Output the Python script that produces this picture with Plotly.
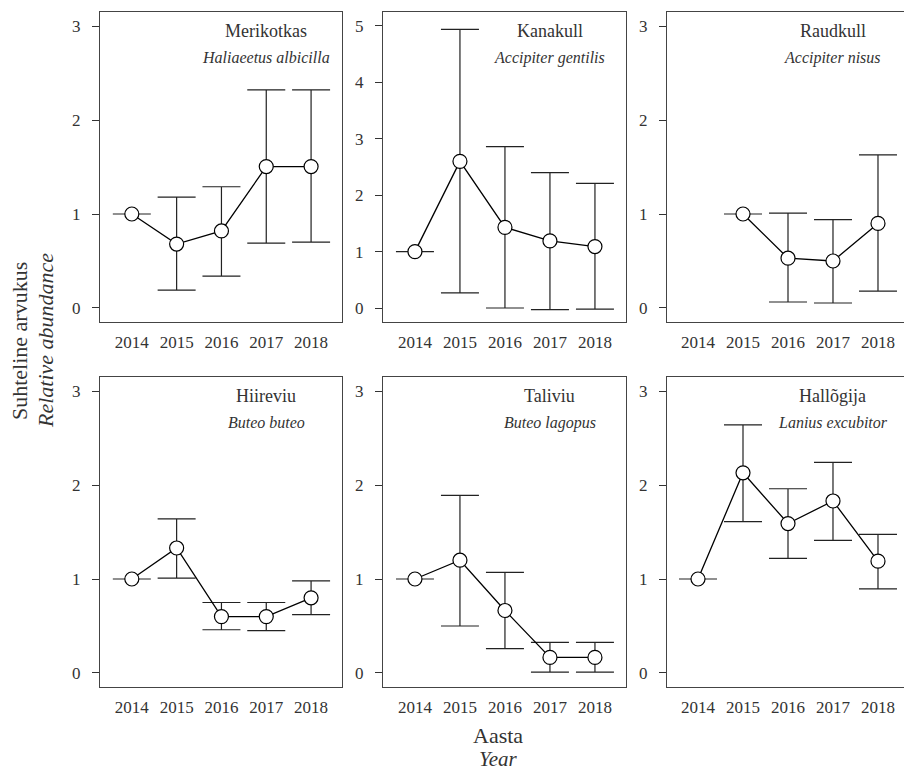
import plotly.graph_objects as go

FONT = "Liberation Serif"

common_names = ["Merikotkas", "Kanakull", "Raudkull", "Hiireviu", "Taliviu", "Hallõgija"]
latin_names = ["Haliaeetus albicilla", "Accipiter gentilis", "Accipiter nisus",
               "Buteo buteo", "Buteo lagopus", "Lanius excubitor"]

years_merikotkas = [2014, 2015, 2016, 2017, 2018]
mean_merikotkas = [1.0, 0.68, 0.82, 1.505, 1.505]
upper_merikotkas = [1.0, 1.18, 1.29, 2.32, 2.32]
lower_merikotkas = [1.0, 0.19, 0.34, 0.69, 0.70]

years_kanakull = [2014, 2015, 2016, 2017, 2018]
mean_kanakull = [1.0, 2.60, 1.43, 1.19, 1.09]
upper_kanakull = [1.0, 4.94, 2.86, 2.40, 2.21]
lower_kanakull = [1.0, 0.27, 0.0, -0.03, -0.02]

years_raudkull = [2015, 2016, 2017, 2018]
mean_raudkull = [1.0, 0.53, 0.50, 0.90]
upper_raudkull = [1.0, 1.01, 0.94, 1.63]
lower_raudkull = [1.0, 0.064, 0.053, 0.18]

years_hiireviu = [2014, 2015, 2016, 2017, 2018]
mean_hiireviu = [1.0, 1.33, 0.60, 0.60, 0.80]
upper_hiireviu = [1.0, 1.64, 0.75, 0.75, 0.98]
lower_hiireviu = [1.0, 1.01, 0.46, 0.45, 0.62]

years_taliviu = [2014, 2015, 2016, 2017, 2018]
mean_taliviu = [1.0, 1.20, 0.665, 0.166, 0.166]
upper_taliviu = [1.0, 1.89, 1.07, 0.325, 0.325]
lower_taliviu = [1.0, 0.50, 0.26, 0.01, 0.01]

years_hallogija = [2014, 2015, 2016, 2017, 2018]
mean_hallogija = [1.0, 2.13, 1.59, 1.83, 1.19]
upper_hallogija = [1.0, 2.64, 1.96, 2.24, 1.475]
lower_hallogija = [1.0, 1.61, 1.22, 1.41, 0.895]

y_ticks_3 = [0, 1, 2, 3]
y_ticks_5 = [0, 1, 2, 3, 4, 5]
x_ticks = [2014, 2015, 2016, 2017, 2018]

panels = [
    (years_merikotkas, mean_merikotkas, upper_merikotkas, lower_merikotkas),
    (years_kanakull, mean_kanakull, upper_kanakull, lower_kanakull),
    (years_raudkull, mean_raudkull, upper_raudkull, lower_raudkull),
    (years_hiireviu, mean_hiireviu, upper_hiireviu, lower_hiireviu),
    (years_taliviu, mean_taliviu, upper_taliviu, lower_taliviu),
    (years_hallogija, mean_hallogija, upper_hallogija, lower_hallogija),
]

W, H = 904, 773
col_px = [(100, 342), (383, 626), (667, 904)]
row_px = [(12, 322), (377, 687)]
x_ranges = [[2013.29, 2018.69], [2013.29, 2018.69], [2013.311, 2018.578]]

fig = go.Figure()
layout = dict(
    width=W, height=H,
    margin=dict(l=0, r=0, t=0, b=0),
    paper_bgcolor="white", plot_bgcolor="white",
    showlegend=False,
    font=dict(family=FONT, color="#333333"),
)
annotations = []

for i, (yrs, mean, up, lo) in enumerate(panels):
    r, c = divmod(i, 3)
    n = i + 1
    xa = "x" if n == 1 else f"x{n}"
    ya = "y" if n == 1 else f"y{n}"
    err_plus = [u - m for u, m in zip(up, mean)]
    err_minus = [m - l for m, l in zip(mean, lo)]
    fig.add_trace(go.Scatter(
        x=yrs, y=mean, xaxis=xa, yaxis=ya, mode="lines+markers",
        line=dict(color="black", width=1.3),
        marker=dict(size=14, color="white", line=dict(color="black", width=1.2)),
        error_y=dict(type="data", symmetric=False, array=err_plus, arrayminus=err_minus,
                     color="#222222", thickness=1.2, width=19),
        hoverinfo="skip",
    ))
    x0, x1 = col_px[c]
    t0, t1 = row_px[r]
    big = (n == 2)
    yr = [-0.248, 5.248] if big else [-0.149, 3.149]
    layout[f"xaxis{n}"] = dict(
        domain=[x0 / W, x1 / W], range=x_ranges[c], anchor=ya,
        tickvals=x_ticks, ticktext=[str(v) for v in x_ticks], ticks="",
        showline=True, linecolor="#444444", linewidth=1, mirror=True,
        showgrid=False, zeroline=False,
        tickfont=dict(family=FONT, size=17, color="#333333"),
        ticklabelstandoff=5,
    )
    layout[f"yaxis{n}"] = dict(
        domain=[1 - t1 / H, 1 - t0 / H], range=yr, anchor=xa,
        tickvals=y_ticks_5 if big else y_ticks_3,
        ticks="outside", ticklen=7, tickcolor="#333333", tickwidth=1,
        showline=True, linecolor="#444444", linewidth=1, mirror=(c != 2),
        showgrid=False, zeroline=False,
        tickfont=dict(family=FONT, size=17, color="#333333"),
        ticklabelstandoff=8,
    )
    annotations.append(dict(
        x=2017, y=0.939, xref=xa, yref=f"{ya} domain", text=common_names[i],
        showarrow=False, xanchor="center", yanchor="middle",
        font=dict(family=FONT, size=18, color="#333333"),
    ))
    annotations.append(dict(
        x=2017, y=0.852, xref=xa, yref=f"{ya} domain", text=f"<i>{latin_names[i]}</i>",
        showarrow=False, xanchor="center", yanchor="middle",
        font=dict(family=FONT, size=16, color="#333333"),
    ))

annotations += [
    dict(x=498 / W, y=1 - 735 / H, xref="paper", yref="paper", text="Aasta",
         showarrow=False, xanchor="center", yanchor="middle",
         font=dict(family=FONT, size=22, color="#333333")),
    dict(x=498 / W, y=1 - 759 / H, xref="paper", yref="paper", text="<i>Year</i>",
         showarrow=False, xanchor="center", yanchor="middle",
         font=dict(family=FONT, size=21, color="#333333")),
    dict(x=19 / W, y=1 - 341 / H, xref="paper", yref="paper", text="Suhteline arvukus",
         showarrow=False, xanchor="center", yanchor="middle", textangle=-90,
         font=dict(family=FONT, size=22, color="#333333")),
    dict(x=45 / W, y=1 - 341 / H, xref="paper", yref="paper", text="<i>Relative abundance</i>",
         showarrow=False, xanchor="center", yanchor="middle", textangle=-90,
         font=dict(family=FONT, size=22, color="#333333")),
]
layout["annotations"] = annotations
fig.update_layout(**layout)
fig.write_html(
    "out.html",
    config={"displayModeBar": False, "staticPlot": True},
    post_script="document.body.style.margin='0';document.body.style.padding='0';"
                "document.body.style.overflow='hidden';",
)
